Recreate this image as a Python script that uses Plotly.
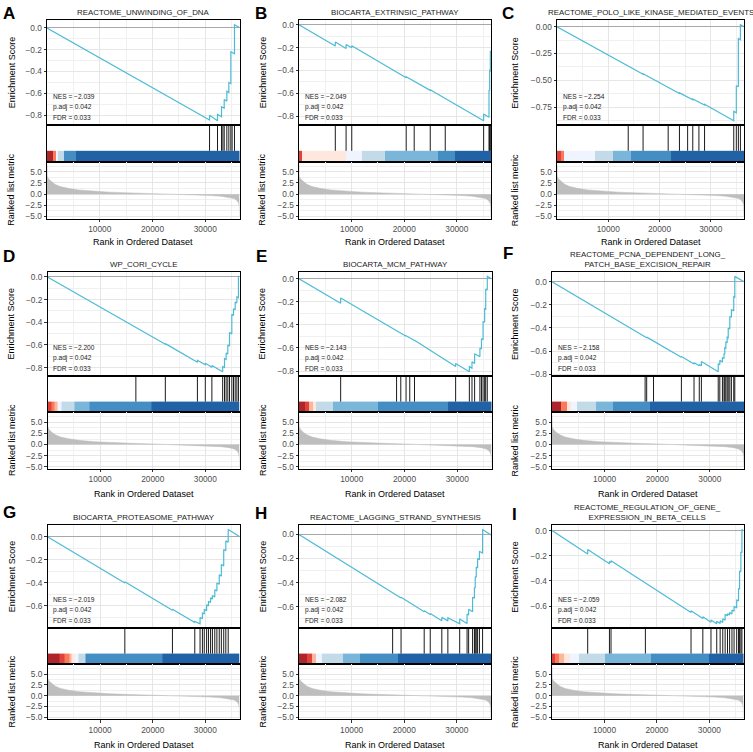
import plotly.graph_objects as go

N_GENES = 36500
W, H = 753, 752

titles = ["REACTOME_UNWINDING_OF_DNA", "BIOCARTA_EXTRINSIC_PATHWAY",
          "REACTOME_POLO_LIKE_KINASE_MEDIATED_EVENTS", "WP_CORI_CYCLE",
          "BIOCARTA_MCM_PATHWAY",
          "REACTOME_PCNA_DEPENDENT_LONG_<br>PATCH_BASE_EXCISION_REPAIR",
          "BIOCARTA_PROTEASOME_PATHWAY", "REACTOME_LAGGING_STRAND_SYNTHESIS",
          "REACTOME_REGULATION_OF_GENE_<br>EXPRESSION_IN_BETA_CELLS"]
letters = ["A", "B", "C", "D", "E", "F", "G", "H", "I"]
nes_values = ["−2.039", "−2.049", "−2.254", "−2.200", "−2.143", "−2.158",
              "−2.019", "−2.082", "−2.059"]
padj_values = ["0.042"] * 9
fdr_values = ["0.033"] * 9

# ranked list metric (same gene list for every panel)
rank_pos = [1, 40, 300, 800, 1500, 2500, 4000, 6000, 9000, 12000, 16000, 20000,
            24000, 28000, 31000, 33000, 34500, 35500, 36000, 36300, 36450, 36500]
rank_metric = [6.7, 4.0, 3.4, 2.8, 2.2, 1.7, 1.3, 0.95, 0.65, 0.45, 0.28, 0.15,
               0.0, -0.15, -0.3, -0.48, -0.7, -1.0, -1.4, -1.9, -2.6, -4.9]

# heat bar colours, left (positive) to right (negative)
palette = ["#A50F15", "#DE2D26", "#FB6A4A", "#FCAE91", "#FEE5D9",
           "#EFF3FF", "#BDD7E7", "#6BAED6", "#3182BD", "#08519C"]

# running enrichment score vertices (rank, ES)
es_a = [(0, 0), (30820, -0.845), (30820, -0.803), (32330, -0.852), (32330, -0.794),
        (33090, -0.815), (33090, -0.724), (33600, -0.738), (33600, -0.658),
        (34100, -0.672), (34100, -0.582), (34480, -0.592), (34480, -0.50),
        (34860, -0.51), (34860, -0.218), (35550, -0.237), (35550, 0.03), (36500, 0.004)]
es_b = [(0, 0), (6900, -0.186), (6900, -0.151), (8950, -0.207), (8950, -0.172),
        (10030, -0.201), (10030, -0.183), (20380, -0.463), (20380, -0.455),
        (21900, -0.496), (21900, -0.49), (24950, -0.573), (24950, -0.567),
        (27800, -0.645), (27800, -0.638), (35100, -0.838), (35100, -0.78),
        (36120, -0.808), (36120, -0.57), (36250, -0.574), (36250, -0.40),
        (36370, -0.403), (36370, -0.23), (36500, -0.234)]
es_c = [(0, 0), (13900, -0.373), (13900, -0.367), (16800, -0.444), (16800, -0.438),
        (21700, -0.570), (21700, -0.564), (23900, -0.623), (23900, -0.617),
        (25500, -0.660), (25500, -0.654), (26500, -0.681), (26500, -0.675),
        (27700, -0.707), (27700, -0.701), (28800, -0.730), (28800, -0.724),
        (34500, -0.877), (34500, -0.79), (35000, -0.803), (35000, -0.55),
        (35400, -0.561), (35400, -0.11), (35800, -0.121), (35800, 0.019), (36500, 0.0)]
es_d = [(0, 0), (16800, -0.450), (16800, -0.444), (22400, -0.594), (22400, -0.588),
        (28500, -0.752), (28500, -0.735), (30000, -0.775), (30000, -0.762),
        (31250, -0.796), (31250, -0.781), (33300, -0.836), (33300, -0.79),
        (33650, -0.799), (33650, -0.72), (33960, -0.728), (33960, -0.67),
        (34280, -0.679), (34280, -0.60), (34600, -0.609), (34600, -0.49),
        (35040, -0.502), (35040, -0.33), (35360, -0.339), (35360, -0.28),
        (35680, -0.289), (35680, -0.22), (36000, -0.229), (36000, -0.175),
        (36300, -0.183), (36300, 0.005), (36500, 0.0)]
es_e = [(0, 0), (7900, -0.212), (7900, -0.168), (18500, -0.455), (18500, -0.452),
        (19300, -0.474), (19300, -0.471), (20300, -0.498), (20300, -0.495),
        (21000, -0.514), (21000, -0.511), (21900, -0.536), (21900, -0.533),
        (29700, -0.760), (29700, -0.735), (32300, -0.806), (32300, -0.762),
        (32800, -0.775), (32800, -0.72), (33300, -0.734), (33300, -0.65),
        (34300, -0.677), (34300, -0.60), (34600, -0.608), (34600, -0.52),
        (34900, -0.528), (34900, -0.37), (35200, -0.378), (35200, -0.26),
        (35400, -0.265), (35400, -0.09), (35700, -0.098), (35700, 0.02), (36500, 0.0)]
es_f = [(0, 0), (17700, -0.483), (17700, -0.477), (18000, -0.485), (18000, -0.479),
        (19300, -0.514), (19300, -0.508), (24600, -0.653), (24600, -0.647),
        (27000, -0.712), (27000, -0.70), (28000, -0.727), (28000, -0.715),
        (28400, -0.726), (28400, -0.69), (31600, -0.778), (31600, -0.71),
        (31900, -0.718), (31900, -0.68), (32400, -0.694), (32400, -0.655),
        (32700, -0.663), (32700, -0.62), (32850, -0.624), (32850, -0.57),
        (33050, -0.575), (33050, -0.52), (33300, -0.527), (33300, -0.48),
        (33500, -0.485), (33500, -0.40), (33800, -0.408), (33800, -0.30),
        (34100, -0.308), (34100, -0.24), (34550, -0.252), (34550, -0.13),
        (34750, -0.135), (34750, 0.046), (36500, 0.0)]
es_g = [(0, 0), (14700, -0.40), (14700, -0.39), (23750, -0.638), (23750, -0.628),
        (28000, -0.744), (28000, -0.735), (29000, -0.755), (29000, -0.70),
        (29450, -0.712), (29450, -0.66), (29800, -0.67), (29800, -0.63),
        (30250, -0.642), (30250, -0.59), (30600, -0.60), (30600, -0.56),
        (31000, -0.571), (31000, -0.53), (31350, -0.54), (31350, -0.51),
        (31800, -0.522), (31800, -0.46), (32200, -0.471), (32200, -0.40),
        (32650, -0.412), (32650, -0.33), (33050, -0.341), (33050, -0.24),
        (33500, -0.252), (33500, -0.11), (33900, -0.121), (33900, -0.035),
        (34350, -0.047), (34350, 0.063), (36500, 0.004)]
es_h = [(0, 0), (17800, -0.488), (17800, -0.482), (19400, -0.526), (19400, -0.52),
        (23800, -0.64), (23800, -0.632), (24950, -0.663), (24950, -0.655),
        (27150, -0.715), (27150, -0.685), (28300, -0.716), (28300, -0.69),
        (30550, -0.74), (30550, -0.70), (31950, -0.738), (31950, -0.66),
        (32250, -0.668), (32250, -0.62), (33000, -0.64), (33000, -0.52),
        (33350, -0.529), (33350, -0.44), (33500, -0.444), (33500, -0.35),
        (33700, -0.355), (33700, -0.27), (33950, -0.277), (33950, -0.20),
        (34300, -0.21), (34300, -0.14), (34900, -0.156), (34900, 0.04), (36500, -0.004)]
es_i = [(0, 0), (6800, -0.186), (6800, -0.15), (10950, -0.264), (10950, -0.245),
        (11250, -0.253), (11250, -0.24), (17800, -0.419), (17800, -0.412),
        (26500, -0.65), (26500, -0.637), (28750, -0.699), (28750, -0.685),
        (30300, -0.727), (30300, -0.71), (31400, -0.74), (31400, -0.72),
        (32050, -0.738), (32050, -0.715), (32550, -0.729), (32550, -0.70),
        (33000, -0.712), (33000, -0.665), (33450, -0.677), (33450, -0.66),
        (33850, -0.671), (33850, -0.65), (34300, -0.662), (34300, -0.63),
        (34700, -0.641), (34700, -0.6), (35200, -0.614), (35200, -0.55),
        (35550, -0.56), (35550, -0.46), (35750, -0.466), (35750, -0.32),
        (36000, -0.327), (36000, -0.17), (36200, -0.175), (36200, 0.008), (36500, 0.0)]

# ranks of the gene-set members (hit lines)
hits_a = [30820, 32330, 33090, 33350, 33600, 34100, 34480, 34860, 35100, 35550]
hits_b = [6900, 8950, 10030, 20380, 21900, 24950, 27800, 35100, 36120, 36250, 36370]
hits_c = [13900, 16800, 21700, 23900, 25500, 26500, 27700, 28800, 34500, 35000, 35400, 35800]
hits_d = [16800, 22400, 28500, 30000, 31250, 33300, 33650, 33960, 34280, 34600,
          35040, 35360, 35680, 36000, 36300]
hits_e = [7900, 18500, 19300, 20300, 21000, 21900, 29700, 32300, 32800, 33300,
          34300, 34600, 34900, 35200, 35400, 35700]
hits_f = [17700, 18000, 19300, 24600, 27000, 28000, 28400, 31600, 31900, 32400,
          32700, 32850, 33050, 33300, 33500, 33800, 34100, 34550, 34750]
hits_g = [14700, 23750, 28000, 29000, 29450, 29800, 30250, 30600, 31000, 31350,
          31800, 32200, 32650, 33050, 33500, 33900, 34350]
hits_h = [17800, 19400, 23800, 24950, 27150, 28300, 30550, 31950, 32250, 33000,
          33350, 33500, 33700, 33950, 34300, 34900]
hits_i = [6800, 10950, 11250, 17800, 26500, 28750, 30300, 31400, 32050, 32550,
          33000, 33450, 33850, 34300, 34700, 35200, 35550, 35750, 36000, 36200]

# heat bar segments: edges (ranks) and palette index per segment
bar_edges_a = [0, 1130, 1720, 2150, 3180, 5580, 36500]
bar_cols_a = [0, 2, 5, 6, 8, 9]
bar_edges_b = [0, 510, 9020, 11900, 16350, 26500, 29670, 36500]
bar_cols_b = [1, 4, 5, 6, 7, 8, 9]
bar_edges_c = [0, 730, 1460, 7450, 10950, 14490, 22340, 36500]
bar_cols_c = [1, 2, 5, 6, 7, 8, 9]
bar_edges_d = [0, 730, 1310, 1900, 2700, 5180, 7960, 19780, 36500]
bar_cols_d = [1, 2, 3, 5, 6, 7, 8, 9]
bar_edges_e = [0, 1130, 1830, 2700, 3210, 6460, 15070, 28290, 36500]
bar_cols_e = [0, 1, 3, 4, 6, 7, 8, 9]
bar_edges_f = [0, 1640, 2920, 3650, 4750, 8400, 11680, 18620, 36500]
bar_cols_f = [0, 2, 4, 5, 6, 7, 8, 9]
bar_edges_g = [0, 2190, 3210, 4120, 4560, 5110, 5840, 7190, 21900, 36500]
bar_cols_g = [0, 1, 2, 3, 4, 5, 6, 8, 9]
bar_edges_h = [0, 1500, 2410, 3290, 4380, 8400, 11680, 18800, 36500]
bar_cols_h = [0, 1, 3, 5, 6, 7, 8, 9]
bar_edges_i = [0, 620, 1280, 2230, 3500, 5110, 10150, 18910, 30000, 36500]
bar_cols_i = [1, 2, 3, 4, 5, 6, 7, 8, 9]

es_sets = [es_a, es_b, es_c, es_d, es_e, es_f, es_g, es_h, es_i]
hit_sets = [hits_a, hits_b, hits_c, hits_d, hits_e, hits_f, hits_g, hits_h, hits_i]
bar_edges = [bar_edges_a, bar_edges_b, bar_edges_c, bar_edges_d, bar_edges_e,
             bar_edges_f, bar_edges_g, bar_edges_h, bar_edges_i]
bar_cols = [bar_cols_a, bar_cols_b, bar_cols_c, bar_cols_d, bar_cols_e,
            bar_cols_f, bar_cols_g, bar_cols_h, bar_cols_i]

# layout in pixels
col_px = [(47, 239.5), (299, 491), (557, 744),
          (47.5, 239.5), (299, 491.5), (552, 744),
          (47.5, 239.5), (299, 491), (552, 743.5)]
row_px = [(20, 126, 162.3, 219.5), (272.7, 378, 414, 470.7), (527, 631, 667, 722.3)]
letter_px = [(9, 14), (261, 14), (508, 14), (9, 258), (261, 258), (508, 255),
             (9, 515), (261, 516), (514.5, 517)]
ytitle_x = [11.5, 262.5, 515]
xtitle_y = [243, 496, 748]

FONT = "Liberation Sans, Arial, sans-serif"
GRID = "#E6E6E6"
GRID_MINOR = "#F0F0F0"
ES_COLOR = "#4DBBD5"


def px_x(v):
    return v / W


def px_y(v):
    return 1 - v / H


def sfx(k):
    return "" if k == 1 else str(k)


colorscale = []
for i, c in enumerate(palette):
    colorscale.append([i / len(palette), c])
    colorscale.append([(i + 1) / len(palette), c])

fig = go.Figure()
annotations = []
axes = {}

tick_common = dict(ticks="outside", ticklen=2.5, tickwidth=0.8, tickcolor="#333333",
                   tickfont=dict(size=8.3, color="#4D4D4D", family=FONT))
frame = dict(showline=True, mirror=True, linecolor="black", linewidth=1, zeroline=False)

for p in range(9):
    x0, x1 = col_px[p]
    rows = row_px[p // 3]
    k_es, k_hit, k_rank = 3 * p + 1, 3 * p + 2, 3 * p + 3
    xdom = [px_x(x0), px_x(x1)]

    # --- enrichment score panel
    es = es_sets[p]
    ex = [v[0] for v in es]
    ey = [v[1] for v in es]
    fig.add_trace(go.Scatter(x=ex, y=ey, mode="lines", hoverinfo="skip",
                             line=dict(color=ES_COLOR, width=1.2),
                             xaxis="x" + sfx(k_es), yaxis="y" + sfx(k_es)))
    lo, hi = min(ey), max(ey)
    pad = (hi - lo) * 0.05
    step = 0.25 if p == 2 else 0.2
    axes["xaxis" + sfx(k_es)] = dict(
        domain=xdom, anchor="y" + sfx(k_es), range=[0, N_GENES],
        tickvals=[10000, 20000, 30000], showticklabels=False, ticks="",
        showgrid=True, gridcolor=GRID, gridwidth=0.8,
        minor=dict(tickvals=[5000, 15000, 25000, 35000], showgrid=True,
                   gridcolor=GRID_MINOR, gridwidth=0.6),
        **frame)
    axes["yaxis" + sfx(k_es)] = dict(
        domain=[px_y(rows[1]), px_y(rows[0])], anchor="x" + sfx(k_es),
        range=[lo - pad, hi + pad], tick0=0, dtick=step,
        tickformat=".2f" if p == 2 else ".1f",
        showgrid=True, gridcolor=GRID, gridwidth=0.8,
        minor=dict(tick0=0, dtick=step / 2, showgrid=True, gridcolor=GRID_MINOR,
                   gridwidth=0.6),
        showline=True, mirror=True, linecolor="black", linewidth=1,
        zeroline=True, zerolinecolor="#A8A8A8", zerolinewidth=1.1,
        **tick_common)

    # --- hits + heat bar panel
    hx, hy = [], []
    for h in hit_sets[p]:
        hx += [h, h, None]
        hy += [0.3, 1, None]
    fig.add_trace(go.Heatmap(x=bar_edges[p], y=[0, 0.3], z=[bar_cols[p]],
                             zmin=-0.5, zmax=len(palette) - 0.5,
                             colorscale=colorscale, showscale=False, opacity=0.9,
                             hoverinfo="skip",
                             xaxis="x" + sfx(k_hit), yaxis="y" + sfx(k_hit)))
    fig.add_trace(go.Scatter(x=hx, y=hy, mode="lines", hoverinfo="skip",
                             line=dict(color="black", width=0.9),
                             xaxis="x" + sfx(k_hit), yaxis="y" + sfx(k_hit)))
    axes["xaxis" + sfx(k_hit)] = dict(
        domain=xdom, anchor="y" + sfx(k_hit), range=[0, N_GENES],
        showticklabels=False, ticks="", showgrid=False, **frame)
    axes["yaxis" + sfx(k_hit)] = dict(
        domain=[px_y(rows[2]), px_y(rows[1])], anchor="x" + sfx(k_hit),
        range=[0, 1], showticklabels=False, ticks="", showgrid=False, **frame)

    # --- ranked list metric panel
    fig.add_trace(go.Scatter(x=rank_pos, y=rank_metric, mode="lines", fill="tozeroy",
                             fillcolor="#BEBEBE", hoverinfo="skip",
                             line=dict(color="#BEBEBE", width=0.5),
                             xaxis="x" + sfx(k_rank), yaxis="y" + sfx(k_rank)))
    rlo, rhi = min(rank_metric), max(rank_metric)
    rpad = (rhi - rlo) * 0.05
    axes["xaxis" + sfx(k_rank)] = dict(
        domain=xdom, anchor="y" + sfx(k_rank), range=[0, N_GENES],
        tickvals=[10000, 20000, 30000], tickformat="d",
        showgrid=True, gridcolor=GRID, gridwidth=0.8,
        minor=dict(tickvals=[5000, 15000, 25000, 35000], showgrid=True,
                   gridcolor=GRID_MINOR, gridwidth=0.6),
        **frame, **tick_common)
    axes["yaxis" + sfx(k_rank)] = dict(
        domain=[px_y(rows[3]), px_y(rows[2])], anchor="x" + sfx(k_rank),
        range=[rlo - rpad, rhi + rpad], tick0=0, dtick=2.5, tickformat=".1f",
        showgrid=True, gridcolor=GRID, gridwidth=0.8,
        minor=dict(tick0=0, dtick=1.25, showgrid=True, gridcolor=GRID_MINOR,
                   gridwidth=0.6),
        **frame, **tick_common)

    # --- text
    xc = (x0 + x1) / 2
    annotations.append(dict(
        text=titles[p], xref="paper", yref="paper", x=px_x(xc), y=px_y(rows[0] - 1),
        xanchor="center", yanchor="bottom", showarrow=False,
        font=dict(size=7.9, color="#1A1A1A", family=FONT)))
    lx, ly = letter_px[p]
    annotations.append(dict(
        text="<b>" + letters[p] + "</b>", xref="paper", yref="paper",
        x=px_x(lx), y=px_y(ly), xanchor="center", yanchor="middle", showarrow=False,
        font=dict(size=17, color="black", family=FONT)))
    stats = ["NES = " + nes_values[p], "p.adj = " + padj_values[p],
             "FDR = " + fdr_values[p]]
    for j, line in enumerate(stats):
        annotations.append(dict(
            text=line, xref="x" + sfx(k_es) + " domain", yref="y" + sfx(k_es) + " domain",
            x=0.02, y=0.275 - 0.1 * j, xanchor="left", yanchor="middle",
            showarrow=False, font=dict(size=6.6, color="#1A1A1A", family=FONT)))
    tx = ytitle_x[p % 3]
    annotations.append(dict(
        text="Enrichment Score", xref="paper", yref="paper", x=px_x(tx),
        y=px_y((rows[0] + rows[1]) / 2), textangle=-90, xanchor="center",
        yanchor="middle", showarrow=False,
        font=dict(size=9, color="black", family=FONT)))
    annotations.append(dict(
        text="Ranked list metric", xref="paper", yref="paper", x=px_x(tx),
        y=px_y((rows[2] + rows[3]) / 2), textangle=-90, xanchor="center",
        yanchor="middle", showarrow=False,
        font=dict(size=9, color="black", family=FONT)))
    annotations.append(dict(
        text="Rank in Ordered Dataset", xref="paper", yref="paper", x=px_x(xc),
        y=px_y(xtitle_y[p // 3]), xanchor="center", yanchor="middle",
        showarrow=False, font=dict(size=9, color="black", family=FONT)))

fig.update_layout(width=W, height=H, margin=dict(l=0, r=0, t=0, b=0),
                  paper_bgcolor="white", plot_bgcolor="white", showlegend=False,
                  font=dict(family=FONT, size=8.3), annotations=annotations, **axes)

# drop the default page margin so the figure fills the 753x752 window exactly
fig.write_html("out.html", config={"displayModeBar": False},
               post_script="document.body.style.margin='0';")
